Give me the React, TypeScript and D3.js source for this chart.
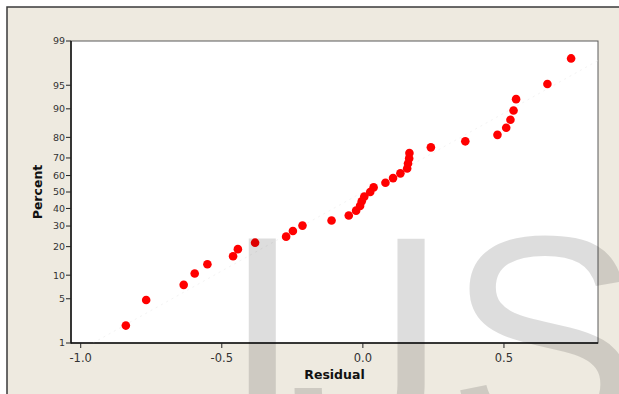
import React from "react";
import * as d3 from "d3";

// Residuals (x) and their plotted percents (y)
const residuals = [
  -0.84, -0.768, -0.635, -0.596, -0.551, -0.46, -0.443, -0.382, -0.272, -0.248,
  -0.214, -0.111, -0.05, -0.024, -0.01, -0.004, 0.005, 0.026, 0.038, 0.08,
  0.107, 0.133, 0.157, 0.16, 0.164, 0.165, 0.241, 0.363, 0.477, 0.508,
  0.523, 0.534, 0.543, 0.654, 0.738,
];
const percents = [
  1.98, 4.8, 7.63, 10.45, 13.28, 16.1, 18.93, 21.75, 24.58, 27.4,
  30.23, 33.05, 35.88, 38.7, 41.53, 44.35, 47.18, 50.0, 52.82, 55.65,
  58.47, 61.3, 64.12, 66.95, 69.77, 72.6, 75.42, 78.25, 81.07, 83.9,
  86.72, 89.55, 92.37, 95.2, 98.02,
];
const yTicks = [1, 5, 10, 20, 30, 40, 50, 60, 70, 80, 90, 95, 99];
const xTicks = [-1.0, -0.5, 0.0, 0.5];
const xLabel = "Residual";
const yLabel = "Percent";
const watermarkLetters = ["I", "J", "S"];

// inverse standard normal CDF (Acklam)
function qnorm(p: number): number {
  const a = [-3.969683028665376e1, 2.209460984245205e2, -2.759285104469687e2, 1.38357751867269e2, -3.066479806614716e1, 2.506628277459239];
  const b = [-5.447609879822406e1, 1.615858368580409e2, -1.556989798598866e2, 6.680131188771972e1, -1.328068155288572e1];
  const c = [-7.784894002430293e-3, -3.223964580411365e-1, -2.400758277161838, -2.549732539343734, 4.374664141464968, 2.938163982698783];
  const d = [7.784695709041462e-3, 3.224671290700398e-1, 2.445134137142996, 3.754408661907416];
  const pl = 0.02425;
  let q: number, r: number;
  if (p < pl) {
    q = Math.sqrt(-2 * Math.log(p));
    return (((((c[0] * q + c[1]) * q + c[2]) * q + c[3]) * q + c[4]) * q + c[5]) / ((((d[0] * q + d[1]) * q + d[2]) * q + d[3]) * q + 1);
  }
  if (p > 1 - pl) {
    q = Math.sqrt(-2 * Math.log(1 - p));
    return -(((((c[0] * q + c[1]) * q + c[2]) * q + c[3]) * q + c[4]) * q + c[5]) / ((((d[0] * q + d[1]) * q + d[2]) * q + d[3]) * q + 1);
  }
  q = p - 0.5;
  r = q * q;
  return ((((((a[0] * r + a[1]) * r + a[2]) * r + a[3]) * r + a[4]) * r + a[5]) * q) / (((((b[0] * r + b[1]) * r + b[2]) * r + b[3]) * r + b[4]) * r + 1);
}

const W = 619;
const H = 394;
const L = 71, R = 598, T = 41, B = 343;

export default function App() {
  const x = d3.scaleLinear().domain([-1.0344, 0.8333]).range([L, R]);
  const y = d3.scaleLinear().domain([qnorm(0.01), qnorm(0.99)]).range([B, T]);
  const py = (pct: number) => y(qnorm(pct / 100));

  const mu = d3.mean(residuals) as number;
  const sd = d3.deviation(residuals) as number;
  const z0 = qnorm(0.01), z1 = qnorm(0.99);
  const fitPts: [number, number][] = [];
  for (const z of [z0, z1]) fitPts.push([x(mu + sd * z), y(z)]);
  const line = d3.line();

  const font = "'DejaVu Sans', Verdana, sans-serif";
  const wmFonts = ["'Liberation Sans', Arial, sans-serif", "Roboto, sans-serif", "'Liberation Sans', Arial, sans-serif"];
  const wmX = [222, 287, 447];
  const wmY = [438, 445, 438];

  return (
    <div style={{ position: "absolute", left: 0, top: 0, width: W, height: H }}>
      <svg width={W} height={H} style={{ display: "block" }}>
        <rect x={0} y={0} width={W} height={H} fill="#ffffff" />
        <rect x={7} y={7} width={W + 20} height={H + 20} fill="#eeeae0" stroke="#3a3a3a" strokeWidth={1.5} />
        <defs>
          <clipPath id="plotclip">
            <rect x={L} y={T} width={R - L} height={B - T} />
          </clipPath>
        </defs>
        <rect x={L} y={T} width={R - L} height={B - T} fill="#ffffff" stroke="#5a5a5a" strokeWidth={1} />
        <path
          d={line(fitPts) || ""}
          stroke="#f3f3f3"
          strokeWidth={1}
          strokeDasharray="2,4"
          fill="none"
          clipPath="url(#plotclip)"
        />
        {residuals.map((r, i) => (
          <circle key={i} cx={x(r)} cy={py(percents[i])} r={4.3} fill="#ff0000" />
        ))}
        <line x1={L} x2={L} y1={T} y2={B + 0.5} stroke="#111" strokeWidth={1.5} />
        <line x1={L} x2={R} y1={B} y2={B} stroke="#111" strokeWidth={1.5} />
        {yTicks.map((t) => (
          <g key={t}>
            <line x1={L - 5} x2={L} y1={py(t)} y2={py(t)} stroke="#222" strokeWidth={1} />
            <text x={L - 6} y={py(t)} dy="0.35em" textAnchor="end" fontSize={9.5} fontFamily={font} fill="#333">
              {t}
            </text>
          </g>
        ))}
        {xTicks.map((t) => (
          <g key={t}>
            <line x1={x(t)} x2={x(t)} y1={B} y2={B + 5} stroke="#222" strokeWidth={1} />
            <text x={x(t)} y={361.5} textAnchor="middle" fontSize={11.5} fontFamily={font} fill="#333">
              {t.toFixed(1)}
            </text>
          </g>
        ))}
        <text x={(L + R) / 2} y={379} textAnchor="middle" fontSize={12.5} fontWeight="bold" fontFamily={font} fill="#111">
          {xLabel}
        </text>
        <text
          transform={`translate(41.5, ${(T + B) / 2}) rotate(-90)`}
          textAnchor="middle"
          fontSize={12.5}
          fontWeight="bold"
          fontFamily={font}
          fill="#111"
        >
          {yLabel}
        </text>
        {watermarkLetters.map((ch, i) => (
          <text key={ch} x={wmX[i]} y={wmY[i]} fontSize={290} fontFamily={wmFonts[i]} fill="#000" fillOpacity={0.135}>
            {ch}
          </text>
        ))}
      </svg>
    </div>
  );
}
